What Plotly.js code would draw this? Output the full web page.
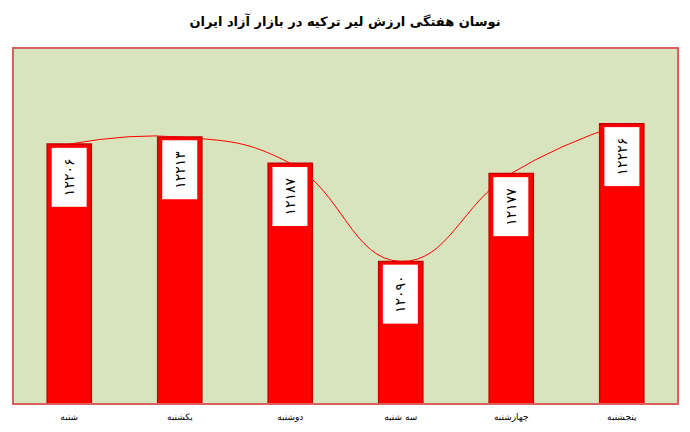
<!DOCTYPE html>
<html>
<head>
<meta charset="utf-8">
<script src="https://cdn.plot.ly/plotly-3.0.1.min.js"></script>
<style>
html,body{margin:0;padding:0;background:#fff;}
#chart{width:690px;height:432px;}
</style>
</head>
<body>
<div id="chart"></div>
<script>
const days = ['شنبه', 'یکشنبه', 'دوشنبه', 'سه شنبه', 'چهارشنبه', 'پنجشنبه'];
const rates = [12206, 12213, 12187, 12090, 12177, 12226];
const chartTitle = 'نوسان هفتگی ارزش لیر ترکیه در بازار آزاد ایران';

const faDigits = '۰۱۲۳۴۵۶۷۸۹';
function toFa(n) { return String(n).replace(/[0-9]/g, d => faDigits[+d]); }

const barTrace = {
  type: 'bar',
  x: days,
  y: rates,
  marker: { color: '#ff0000', line: { color: '#c80000', width: 1.5 } },
  hoverinfo: 'x+y'
};
const lineTrace = {
  type: 'scatter',
  mode: 'lines',
  x: days,
  y: rates,
  line: { color: '#ff0000', width: 1, shape: 'spline', smoothing: 1.3 },
  hoverinfo: 'skip'
};

const annotations = days.map((d, i) => ({
  x: d, y: rates[i], xref: 'x', yref: 'y',
  text: toFa(rates[i]),
  showarrow: false,
  textangle: -90,
  yanchor: 'top', xanchor: 'center',
  yshift: -3,
  bgcolor: '#ffffff',
  width: 46, height: 22, borderpad: 6,
  font: { family: 'DejaVu Sans', size: 14, color: '#000000' }
}));

const layout = {
  width: 690, height: 432,
  margin: { l: 14, r: 13, t: 49, b: 29, pad: 0 },
  paper_bgcolor: '#ffffff',
  plot_bgcolor: '#d7e4bd',
  showlegend: false,
  bargap: 0.6,
  title: {
    text: chartTitle,
    x: 0.5, xanchor: 'center', y: 0.951, yanchor: 'middle',
    font: { family: 'DejaVu Sans', size: 13, color: '#000000', weight: 'bold' }
  },
  xaxis: {
    type: 'category',
    showgrid: false, zeroline: false,
    showline: true, mirror: true, linecolor: '#d9605f', linewidth: 2,
    ticks: '', ticklabelstandoff: 4,
    tickfont: { family: 'DejaVu Sans', size: 9, color: '#000000' }
  },
  yaxis: {
    range: [11950, 12300],
    showgrid: false, zeroline: false, showticklabels: false, ticks: '',
    showline: true, mirror: true, linecolor: '#d9605f', linewidth: 2
  },
  annotations: annotations
};

Plotly.newPlot('chart', [barTrace, lineTrace], layout, { displayModeBar: false, staticPlot: true });
</script>
</body>
</html>
